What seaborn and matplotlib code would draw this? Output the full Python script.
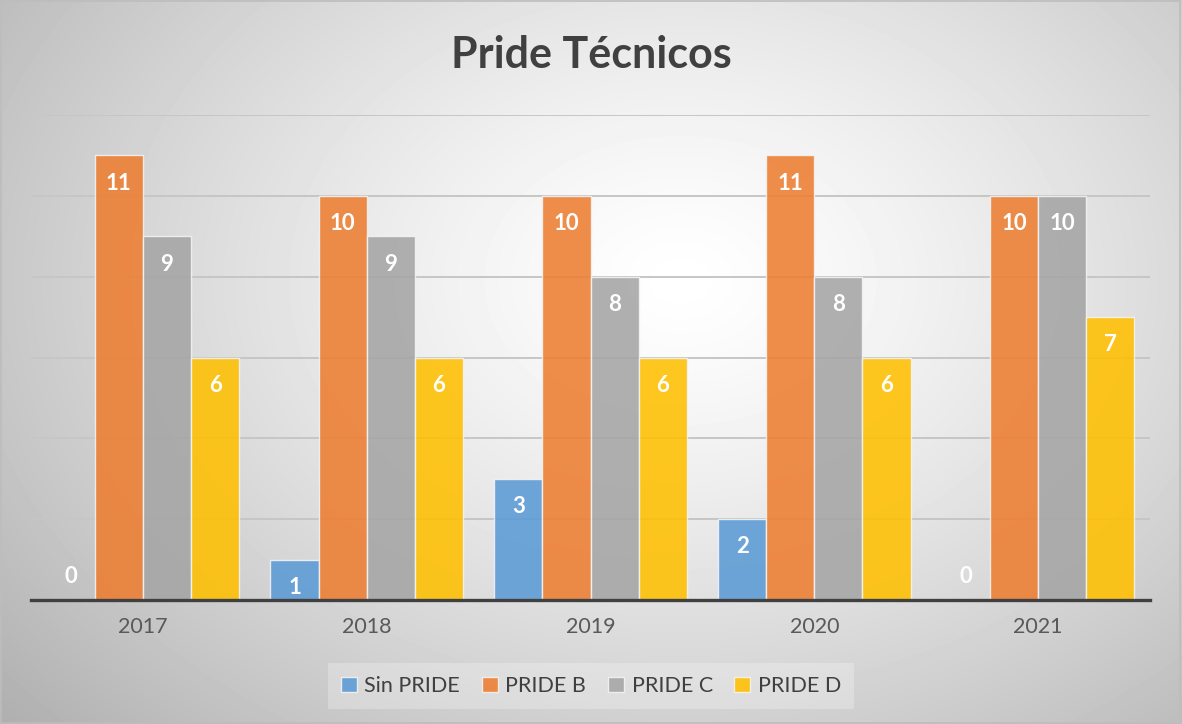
import numpy as np
import pandas as pd
import matplotlib.pyplot as plt
import seaborn as sns
from matplotlib.patches import Rectangle

# Chart data
years = ['2017', '2018', '2019', '2020', '2021']
series = ['Sin PRIDE', 'PRIDE B', 'PRIDE C', 'PRIDE D']
sin_pride = [0, 1, 3, 2, 0]
pride_b = [11, 10, 10, 11, 10]
pride_c = [9, 9, 8, 8, 10]
pride_d = [6, 6, 6, 6, 7]
colors = ['#5B9BD5', '#ED7D31', '#A5A5A5', '#FFC000']

df = pd.DataFrame({
    'year': years * 4,
    'serie': np.repeat(series, len(years)),
    'value': sin_pride + pride_b + pride_c + pride_d,
})

sns.set_theme(style='white')
plt.rcParams['font.family'] = ['Lato', 'DejaVu Sans']

fig = plt.figure(figsize=(11.82, 7.24), dpi=100)

# radial gradient background
bg = fig.add_axes([0, 0, 1, 1], zorder=-2)
h, w = 724, 1182
yy, xx = np.mgrid[0:h, 0:w]
r = np.sqrt(((xx - 680) / 760) ** 2 + ((yy - 280) / 560) ** 2)
shade = 1 - 0.25 * np.clip(r, 0, 1.2) ** 1.3
bg.imshow(shade, cmap='gray', vmin=0, vmax=1, aspect='auto', interpolation='bilinear')
bg.axis('off')
fig.patches.append(Rectangle((0.001, 0.001), 0.997, 0.997, transform=fig.transFigure,
                             fill=False, edgecolor='#bdbdbd', linewidth=1.2))

ax = fig.add_axes([31 / 1182, 124 / 724, 1119 / 1182, 485 / 724])
ax.set_facecolor('none')
sns.barplot(data=df, x='year', y='value', hue='serie', palette=colors, ax=ax,
            saturation=1, width=0.86, alpha=0.88, edgecolor='#f4f4f4', linewidth=1, zorder=3)

ax.set_ylim(0, 12)
ax.set_yticks(range(2, 13, 2))
ax.set_yticklabels([])
ax.yaxis.grid(True, color='#c6c6c6', linewidth=1.4, zorder=0)
ax.set_axisbelow(True)
for s in ['top', 'right', 'left']:
    ax.spines[s].set_visible(False)
ax.spines['bottom'].set_color('#404040')
ax.spines['bottom'].set_linewidth(2.4)
ax.spines['bottom'].set_zorder(5)
ax.tick_params(axis='x', length=0, pad=12, labelsize=15.5, labelcolor='#595959')
ax.tick_params(axis='y', length=0)
ax.set_xlabel('')
ax.set_ylabel('')

# value labels inside the bars (zero values sit just above the axis)
for cont in ax.containers:
    for p, v in zip(cont.patches, cont.datavalues):
        dy = -20 if v > 0 else 17
        ax.annotate(f'{int(v)}', (p.get_x() + p.get_width() / 2, p.get_height()),
                    xytext=(0, dy), textcoords='offset points', ha='center', va='center',
                    color='white', fontsize=16, fontweight='bold', zorder=6)

fig.text(0.5, 0.924, 'Pride Técnicos', ha='center', va='center',
         fontsize=31, fontweight='bold', color='#404040')

leg = ax.legend(loc='center', bbox_to_anchor=(0.5, 1 - 686 / 724), bbox_transform=fig.transFigure,
                ncol=4, frameon=True, fontsize=15.5, handlelength=0.75, handleheight=0.75,
                handletextpad=0.35, columnspacing=1.0, borderpad=0.3)
leg.get_frame().set_facecolor('white')
leg.get_frame().set_alpha(0.25)
leg.get_frame().set_edgecolor('none')
leg.get_frame().set_boxstyle('square')
for t in leg.get_texts():
    t.set_color('#404040')

fig.savefig('out.png', dpi=100)
